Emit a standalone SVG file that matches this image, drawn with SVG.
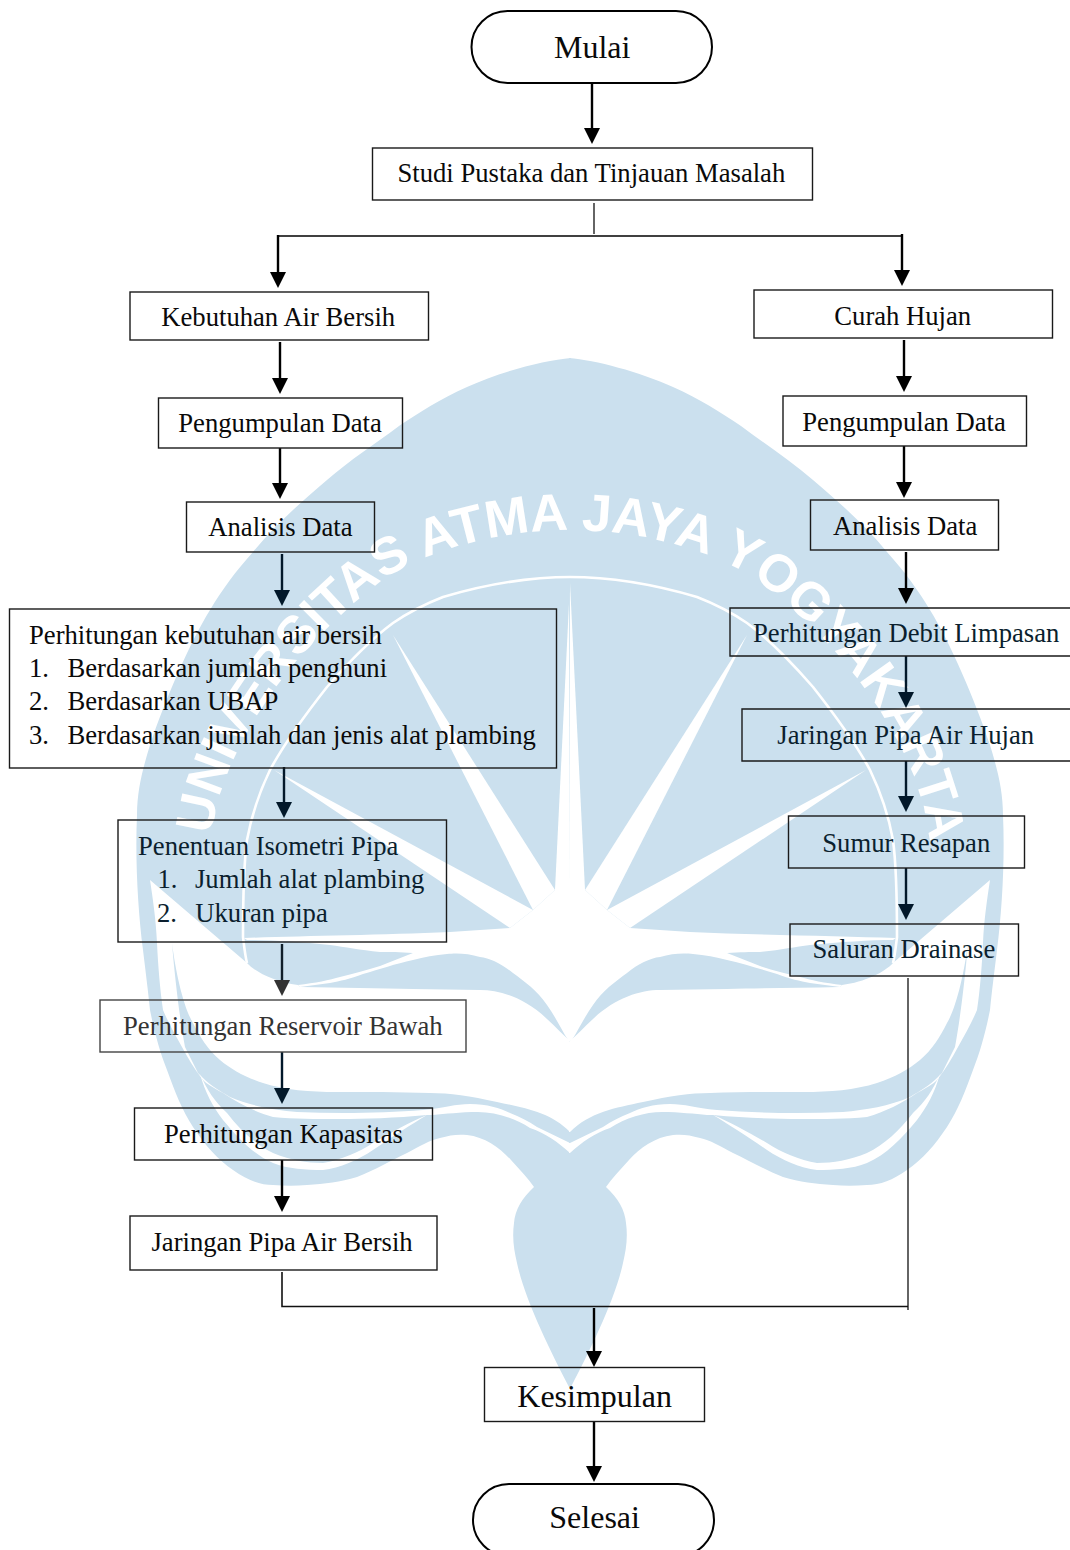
<svg xmlns="http://www.w3.org/2000/svg" xmlns:xlink="http://www.w3.org/1999/xlink" width="1070" height="1550" viewBox="0 0 1070 1550">
<style>
text{font-family:"Liberation Serif","Times New Roman",serif;font-size:26.65px;fill:#0a0a0a}
.big{font-size:32px}
.b{fill:none;stroke:#1a1a1a;stroke-width:1.4}
.t{fill:none;stroke:#000;stroke-width:2}
.n{fill:#0b1f2e}
.g{fill:#333}
.a{fill:none;stroke:#000;stroke-width:2.4;marker-end:url(#ah)}
.an{fill:none;stroke:#02182a;stroke-width:2.4;marker-end:url(#ahn)}
.ag{fill:none;stroke:#101f2a;stroke-width:2.4;marker-end:url(#ahg)}
.l{fill:none;stroke:#111;stroke-width:1.3}
.wm{font-family:"Liberation Sans",Arial,sans-serif;font-weight:bold;font-size:52.500px;fill:#fff}
</style>
<defs>
<marker id="ah" markerUnits="userSpaceOnUse" markerWidth="18" markerHeight="18" refX="10" refY="8" orient="auto"><path d="M0,0L16,8L0,16Z" fill="#000"/></marker>
<marker id="ahn" markerUnits="userSpaceOnUse" markerWidth="18" markerHeight="18" refX="10" refY="8" orient="auto"><path d="M0,0L16,8L0,16Z" fill="#02182a"/></marker>
<marker id="ahg" markerUnits="userSpaceOnUse" markerWidth="18" markerHeight="18" refX="10" refY="8" orient="auto"><path d="M0,0L16,8L0,16Z" fill="#333"/></marker>
<g id="half">
<path fill="#cbe0ee" d="M571,358C545,360 500,372 467,387C440,399 420,412 399,426C375,444 350,460 327,480C300,503 275,525 253,552C235,572 222,590 210,610C190,642 165,700 150,745C143,768 137,790 137,815C135,860 138,910 143,950C146,975 148,990 150,1010C155,1035 160,1052 167,1070C175,1092 182,1110 193,1127C205,1145 218,1160 233,1170C247,1180 260,1185 273,1185C285,1186 296,1186 307,1185C325,1184 340,1182 357,1177C375,1170 392,1160 407,1153C420,1146 430,1140 440,1138C450,1135 458,1134 467,1135C485,1137 500,1148 511,1160C520,1170 528,1178 534,1187C522,1198 515,1210 514,1223C512,1238 514,1250 517,1263C525,1300 550,1350 569,1387L571,1387Z"/>
<g fill="#fff">
<path d="M570,583L555,890L571,890Z"/>
<path d="M393,635L533,910L555,890Z"/>
<path d="M274,770L510,928L533,910Z"/>
<path d="M244,938C300,936 380,935 450,932L510,928L533,910L555,890L571,885L571,1042L568,1040C560,1027 555,1016 547,1005C537,990 525,982 513,973C502,964 490,958 480,957C468,953 455,953 447,954C435,955 424,957 413,960C395,964 380,969 363,974C350,979 340,981 330,983L300,987L298,985C315,983 330,980 340,977C355,973 368,970 380,966L413,953C400,952 390,952 380,952C360,950 345,947 330,945C300,942 270,940 247,940Z"/>
<path d="M150,880L247,963C255,972 275,982 298,985L300,987C340,988 380,988 413,989L480,990C500,990 525,998 547,1019C556,1027 563,1035 571,1042L571,1132L570,1132C550,1112 525,1108 497,1102C470,1096 450,1093 430,1093C400,1092 365,1092 337,1092C310,1092 285,1090 263,1083C245,1077 232,1070 220,1060C208,1050 200,1037 193,1023C184,1008 176,975 172,943C175,980 180,1020 185,1047L198,1073C207,1083 218,1090 230,1097C250,1106 275,1110 297,1112C340,1114 385,1113 423,1110C445,1108 455,1104 470,1104C487,1104 500,1108 510,1113C520,1117 528,1121 537,1127L570,1143L571,1143L571,1153L570,1153C558,1142 545,1133 530,1128C515,1118 495,1112 478,1112C460,1112 445,1114 433,1115L427,1115C395,1118 365,1119 340,1119C315,1119 295,1119 273,1117C255,1112 238,1103 223,1093C212,1087 207,1084 203,1080C195,1070 188,1058 182,1047C174,1033 168,1022 163,1010C160,990 158,965 157,943C156,920 153,900 150,880Z"/>
<path d="M200,1074C207,1090 215,1102 227,1113C240,1130 256,1145 273,1153C290,1160 307,1163 323,1163C340,1160 360,1152 373,1143C392,1132 410,1122 427,1115C412,1124 392,1137 373,1150C358,1160 340,1168 323,1170C306,1170 288,1169 273,1163C254,1155 238,1138 223,1120C213,1107 205,1092 200,1074Z"/>
</g>
<path fill="none" stroke="#fff" stroke-width="2.6" d="M571,577C525,577 480,586 443,597C425,604 409,612 393,623C370,640 348,663 327,687C305,715 285,742 270,770C258,795 251,818 247,840C243,870 243,905 243,937C244,945 245,955 247,963"/>
</g>
</defs>
<g id="watermark">
<use xlink:href="#half" href="#half"/>
<use xlink:href="#half" href="#half" transform="translate(1140,0) scale(-1,1)"/>
<path id="arc" fill="none" d="M200,900L212,830C225,740 300,640 387,577C440,545 510,530 570,530C630,530 700,545 753,577C840,640 915,740 928,830L940,900"/>
<text class="wm" text-anchor="middle"><textPath xlink:href="#arc" href="#arc" startOffset="50.300%">UNIVERSITAS ATMA JAYA YOGYAKARTA</textPath></text>
</g>
<g id="connectors">
<path class="a" d="M592,83V138"/>
<path class="l" d="M594,203V234"/>
<path class="t" style="stroke-width:1.6" d="M278,236H903"/>
<path class="a" d="M278,235V282"/>
<path class="a" d="M902,234V280"/>
<path class="a" d="M280,342V388"/>
<path class="a" d="M280,448V493"/>
<path class="an" d="M282,554V600"/>
<path class="an" d="M284,767V812"/>
<path class="ag" d="M282,944V990"/>
<path class="an" d="M282,1052V1098"/>
<path class="a" d="M282,1160V1206"/>
<path class="a" d="M904,340V386"/>
<path class="a" d="M904,446V492"/>
<path class="a" d="M906,552V598"/>
<path class="an" d="M906,656V702"/>
<path class="an" d="M906,761V806"/>
<path class="an" d="M906,868V914"/>
<path class="l" style="stroke-width:1.6" d="M282,1272V1306.500H908"/>
<path class="l" d="M908,978V1310"/>
<path class="a" d="M594,1308V1361"/>
<path class="a" d="M594,1422V1476"/>
</g>
<g id="mulai"><rect class="t" x="471.500" y="11" width="240.500" height="72" rx="36"/><text class="big" x="554" y="58">Mulai</text></g>
<g id="studi"><rect class="b" x="372.500" y="148" width="440" height="52"/><text x="397.500" y="182">Studi Pustaka dan Tinjauan Masalah</text></g>
<g id="kebutuhan"><rect class="b" x="130" y="292" width="298.500" height="48"/><text x="161.300" y="326">Kebutuhan Air Bersih</text></g>
<g id="curah"><rect class="b" x="754" y="290" width="298.500" height="48"/><text x="834.300" y="325">Curah Hujan</text></g>
<g id="pengumpulan-l"><rect class="b" x="158.500" y="398" width="244" height="50"/><text x="178.300" y="432">Pengumpulan Data</text></g>
<g id="pengumpulan-r"><rect class="b" x="783" y="396" width="243.500" height="50"/><text x="802.300" y="431">Pengumpulan Data</text></g>
<g id="analisis-l"><rect class="b" x="186.500" y="502" width="188" height="50"/><text x="208.300" y="536">Analisis Data</text></g>
<g id="analisis-r"><rect class="b" x="810.500" y="500" width="188" height="50"/><text x="833" y="535">Analisis Data</text></g>
<g id="perhitungan-kebutuhan"><rect class="b" x="9.500" y="609" width="547" height="159"/>
<text x="29" y="644">Perhitungan kebutuhan air bersih</text>
<text x="29" y="677">1.</text><text x="67.500" y="677">Berdasarkan jumlah penghuni</text>
<text x="29" y="710">2.</text><text x="67.500" y="710">Berdasarkan UBAP</text>
<text x="29" y="744">3.</text><text x="67.500" y="744">Berdasarkan jumlah dan jenis alat plambing</text></g>
<g id="debit"><path class="b" d="M1070,608H730V656H1070"/><text class="n" x="753" y="642">Perhitungan Debit Limpasan</text></g>
<g id="jaringan-hujan"><path class="b" d="M1070,709H742V761H1070"/><text class="n" x="777.300" y="744">Jaringan Pipa Air Hujan</text></g>
<g id="sumur"><rect class="b" x="788.500" y="816" width="236" height="52"/><text class="n" x="822.300" y="852">Sumur Resapan</text></g>
<g id="saluran"><rect class="b" x="790" y="924" width="228.500" height="52"/><text class="n" x="812.500" y="958">Saluran Drainase</text></g>
<g id="penentuan"><rect class="b" x="118" y="820" width="328.500" height="122"/>
<text class="n" x="138" y="855">Penentuan Isometri Pipa</text>
<text class="n" x="157.500" y="888">1.</text><text class="n" x="195" y="888">Jumlah alat plambing</text>
<text class="n" x="157" y="922">2.</text><text class="n" x="195.300" y="922">Ukuran pipa</text></g>
<g id="reservoir"><rect class="b" style="stroke:#444" x="100" y="1000" width="366" height="52"/><text class="g" x="123" y="1035">Perhitungan Reservoir Bawah</text></g>
<g id="kapasitas"><rect class="b" x="134.500" y="1108" width="298" height="52"/><text x="164" y="1143">Perhitungan Kapasitas</text></g>
<g id="jaringan-bersih"><rect class="b" x="130" y="1216" width="307" height="54"/><text x="151.500" y="1251">Jaringan Pipa Air Bersih</text></g>
<g id="kesimpulan"><rect class="b" x="484.500" y="1367.500" width="220" height="54"/><text class="big" x="517.300" y="1407">Kesimpulan</text></g>
<g id="selesai"><rect class="t" x="473" y="1484" width="241" height="72" rx="36"/><text class="big" x="549.300" y="1528">Selesai</text></g>
</svg>
